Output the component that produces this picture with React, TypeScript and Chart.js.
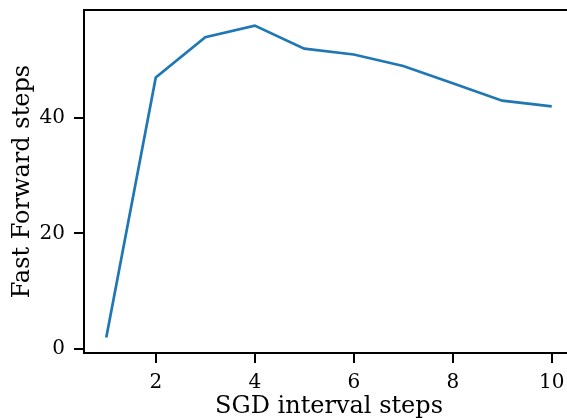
import React, { useEffect, useRef } from "react";
import { Chart, registerables } from "chart.js";

Chart.register(...registerables);

const xValues = [1, 2, 3, 4, 5, 6, 7, 8, 9, 10];
const yValues = [2, 47, 54, 56, 52, 51, 49, 46, 43, 42];
const xTicks = [2, 4, 6, 8, 10];
const yTicks = [0, 20, 40];
const xTitle = "SGD interval steps";
const yTitle = "Fast Forward steps";

const TICK_FONT = { family: "'DejaVu Serif', serif", size: 20 };
const TITLE_FONT = { family: "'DejaVu Serif', serif", size: 24 };

const spines = {
  id: "spines",
  afterDraw(chart: any) {
    const { ctx, chartArea: a } = chart;
    ctx.save();
    ctx.strokeStyle = "#000";
    ctx.lineWidth = 2;
    ctx.strokeRect(a.left, a.top, a.right - a.left, a.bottom - a.top);
    ctx.restore();
  },
};

export default function App() {
  const ref = useRef<HTMLCanvasElement>(null);
  useEffect(() => {
    const chart = new Chart(ref.current!, {
      type: "line",
      data: {
        datasets: [
          {
            data: xValues.map((x, i) => ({ x, y: yValues[i] })),
            borderColor: "#1f77b4",
            borderWidth: 2.7,
            pointRadius: 0,
            tension: 0,
            fill: false,
          },
        ],
      },
      options: {
        animation: false,
        responsive: false,
        maintainAspectRatio: false,
        layout: { padding: { top: 10, right: 26, left: 0, bottom: 0 } },
        plugins: { legend: { display: false }, tooltip: { enabled: false } },
        scales: {
          x: {
            type: "linear",
            min: 0.55,
            max: 10.45,
            afterBuildTicks: (s: any) => {
              s.ticks = xTicks.map((v) => ({ value: v }));
            },
            afterFit: (s: any) => {
              s.height = 68;
              s.paddingLeft = 0;
              s.paddingRight = 0;
            },
            border: { display: false },
            grid: {
              drawOnChartArea: false,
              drawTicks: true,
              tickLength: 10,
              color: "#000",
              lineWidth: 2,
            },
            ticks: { color: "#000", font: TICK_FONT, padding: 8, maxRotation: 0 },
            title: {
              display: true,
              text: xTitle,
              color: "#000",
              font: TITLE_FONT,
              padding: { top: 0, bottom: 0 },
            },
          },
          y: {
            type: "linear",
            min: -0.7,
            max: 58.7,
            afterBuildTicks: (s: any) => {
              s.ticks = yTicks.map((v) => ({ value: v }));
            },
            afterFit: (s: any) => {
              s.width = 84;
              s.paddingTop = 0;
              s.paddingBottom = 0;
            },
            border: { display: false },
            grid: {
              drawOnChartArea: false,
              drawTicks: true,
              tickLength: 10,
              color: "#000",
              lineWidth: 2,
            },
            ticks: { color: "#000", font: TICK_FONT, padding: 9 },
            title: {
              display: true,
              text: yTitle,
              color: "#000",
              font: TITLE_FONT,
              padding: { top: 8, bottom: 0 },
            },
          },
        },
      },
      plugins: [spines],
    });
    return () => chart.destroy();
  }, []);
  return (
    <div
      style={{
        position: "fixed",
        left: 0,
        top: 0,
        width: 567,
        height: 418,
        overflow: "hidden",
        background: "#fff",
      }}
    >
      <canvas ref={ref} width={600} height={421} style={{ display: "block" }} />
    </div>
  );
}
